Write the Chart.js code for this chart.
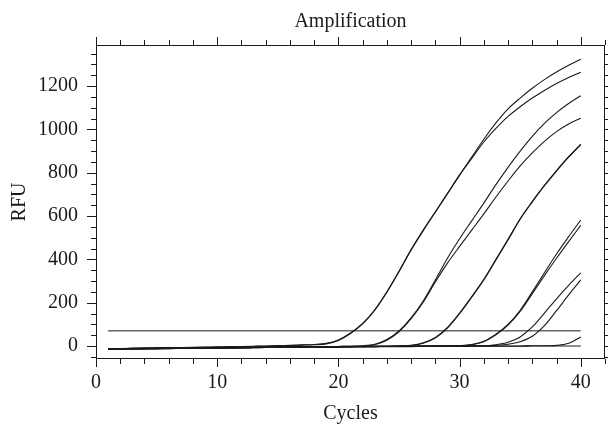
<!DOCTYPE html>
<html>
<head>
<meta charset="utf-8">
<title>Amplification</title>
<script src="https://cdn.jsdelivr.net/npm/chart.js@4.4.0/dist/chart.umd.min.js"></script>
<style>
  html, body { margin: 0; padding: 0; background: #fff; }
  #wrap { width: 608px; height: 426px; }
</style>
</head>
<body>
<div id="wrap"><canvas id="amp" width="608" height="426"></canvas></div>
<script>
// Datos (RFU por ciclo)
const cycles = [1,2,3,4,5,6,7,8,9,10,11,12,13,14,15,16,17,18,19,20,21,22,23,24,25,26,27,28,29,30,31,32,33,34,35,36,37,38,39,40];

const g1a = [-13,-12,-11,-10,-9,-8,-7,-6,-5,-4,-3,-2,-1,0,2,3,5,7,12,28,60,104,167,250,345,445,535,620,705,790,872,955,1030,1095,1145,1190,1230,1265,1296,1324];
const g1b = [-14,-13,-12,-11,-10,-9,-8,-7,-6,-5,-4,-3,-2,-1,1,2,4,6,10,26,58,102,165,248,343,443,533,618,703,788,866,942,1005,1060,1105,1145,1180,1212,1240,1264];
const g2a = [-15,-14,-14,-13,-12,-12,-11,-10,-10,-9,-8,-8,-7,-6,-6,-5,-4,-4,-3,-2,-1,1,8,30,70,130,208,305,405,495,578,660,745,825,900,968,1028,1078,1120,1156];
const g2b = [-14,-14,-13,-13,-12,-11,-11,-10,-9,-9,-8,-7,-7,-6,-5,-5,-4,-3,-3,-2,-1,0,6,27,66,126,202,296,383,460,535,610,688,762,832,892,945,990,1025,1052];
const g3a = [-13,-13,-12,-12,-11,-11,-10,-9,-9,-8,-8,-7,-7,-6,-5,-5,-4,-4,-3,-3,-2,-2,-1,-1,0,3,15,40,86,152,228,308,400,493,588,668,742,810,874,932];
const g3b = [-14,-13,-13,-12,-12,-11,-10,-10,-9,-9,-8,-8,-7,-6,-6,-5,-5,-4,-3,-3,-2,-2,-1,-1,0,2,13,37,83,149,225,305,397,490,585,665,740,808,872,930];
const g4a = [-12,-12,-11,-11,-10,-10,-9,-9,-8,-8,-7,-7,-6,-6,-5,-5,-4,-4,-3,-3,-2,-2,-1,-1,-1,0,0,0,0,2,7,22,55,100,165,250,338,425,505,582];
const g4b = [-13,-12,-12,-11,-11,-10,-10,-9,-9,-8,-8,-7,-7,-6,-6,-5,-5,-4,-4,-3,-3,-2,-2,-1,-1,-1,0,0,0,1,6,20,52,97,160,242,325,405,482,557];
const g5a = [-14,-14,-13,-13,-12,-12,-11,-11,-10,-10,-9,-9,-8,-7,-7,-6,-6,-5,-5,-4,-4,-3,-3,-2,-2,-1,-1,0,0,0,1,2,6,17,42,88,152,218,280,338];
const g5b = [-13,-13,-12,-12,-11,-11,-10,-10,-9,-9,-8,-8,-7,-7,-6,-6,-5,-5,-4,-4,-3,-3,-2,-2,-1,-1,-1,0,0,0,0,1,3,8,20,45,94,163,236,305];
const g6  = [-12,-12,-11,-11,-10,-10,-9,-9,-8,-8,-7,-7,-6,-6,-5,-5,-4,-4,-3,-3,-3,-2,-2,-2,-1,-1,-1,-1,0,0,0,0,0,0,0,1,1,3,13,42];
const ntc = [-14,-13,-13,-12,-12,-11,-11,-10,-10,-9,-9,-8,-8,-7,-7,-6,-6,-5,-5,-5,-4,-4,-4,-3,-3,-3,-2,-2,-2,-2,-1,-1,-1,-1,-1,0,0,0,0,0];

const curves = [g1a, g1b, g2a, g2b, g3a, g3b, g4a, g4b, g5a, g5b, g6, ntc];

// Umbral
const thresholdCycles = [1, 40];
const thresholdValue = 70;

// Etiquetas de los ejes
const xTickLabels = [0, 10, 20, 30, 40];
const yTickLabels = [0, 200, 400, 600, 800, 1000, 1200];

const X_MIN = 0, X_MAX = 42, X_MAJOR = 10, X_MINOR = 2;
const Y_MIN = -60, Y_MAX = 1390, Y_MAJOR = 200, Y_MINOR = 50;

const INK = '#1a1a1a';
const FONT = { family: "'Liberation Serif', 'DejaVu Serif', serif", size: 20, lineHeight: 1.2 };

// Marco + marcas de ejes en los cuatro lados
const frameTicks = {
    id: 'frameTicks',
    afterDraw(chart) {
        const { ctx, chartArea: a, scales: { x, y } } = chart;
        ctx.save();
        ctx.strokeStyle = INK;
        ctx.lineWidth = 1;
        ctx.strokeRect(a.left + 0.5, a.top + 0.5, a.right - a.left - 1, a.bottom - a.top - 1);
        ctx.beginPath();
        for (let v = X_MIN; v <= X_MAX; v += X_MINOR) {
            const px = Math.round(x.getPixelForValue(v)) + 0.5;
            const len = v % X_MAJOR === 0 ? 8 : 5;
            ctx.moveTo(px, a.bottom); ctx.lineTo(px, a.bottom + len);
            ctx.moveTo(px, a.top); ctx.lineTo(px, a.top - len);
        }
        for (let v = -Y_MINOR; v <= Y_MAX; v += Y_MINOR) {
            const py = Math.round(y.getPixelForValue(v)) + 0.5;
            const len = v % Y_MAJOR === 0 && v >= 0 ? 9 : 5;
            ctx.moveTo(a.left, py); ctx.lineTo(a.left - len, py);
            ctx.moveTo(a.right, py); ctx.lineTo(a.right + len, py);
        }
        ctx.stroke();
        ctx.restore();
    }
};

const datasets = curves.map(vals => ({
    data: cycles.map((c, i) => ({ x: c, y: vals[i] })),
    borderColor: INK,
    borderWidth: 1.1,
    pointRadius: 0,
    fill: false,
    cubicInterpolationMode: 'monotone'
}));
datasets.push({
    data: thresholdCycles.map(c => ({ x: c, y: thresholdValue })),
    borderColor: INK,
    borderWidth: 1,
    pointRadius: 0,
    fill: false
});

new Chart(document.getElementById('amp'), {
    type: 'line',
    data: { datasets },
    options: {
        responsive: false,
        animation: false,
        devicePixelRatio: 1,
        layout: { padding: { top: 0, right: 3, bottom: 0, left: 0 } },
        plugins: {
            legend: { display: false },
            tooltip: { enabled: false },
            title: {
                display: true,
                text: 'Amplification',
                fullSize: false,
                color: INK,
                font: { ...FONT, weight: 'normal' },
                padding: { top: 10, bottom: 11 }
            }
        },
        scales: {
            x: {
                type: 'linear',
                min: X_MIN,
                max: X_MAX,
                grid: { display: false, drawTicks: false },
                border: { display: false },
                ticks: { color: INK, font: FONT, padding: 12, maxRotation: 0, autoSkip: false, callback: v => String(v) },
                afterBuildTicks: s => { s.ticks = xTickLabels.map(v => ({ value: v })); },
                afterFit: s => { s.height = 67; },
                title: { display: true, text: 'Cycles', color: INK, font: FONT, padding: 0 }
            },
            y: {
                min: Y_MIN,
                max: Y_MAX,
                grid: { display: false, drawTicks: false },
                border: { display: false },
                ticks: { color: INK, font: FONT, padding: 18, autoSkip: false, callback: v => String(v) },
                afterBuildTicks: s => { s.ticks = yTickLabels.map(v => ({ value: v })); },
                afterFit: s => { s.width = 96; },
                title: { display: true, text: 'RFU', color: INK, font: FONT, padding: { top: 8, bottom: 0 } }
            }
        }
    },
    plugins: [frameTicks]
});
</script>
</body>
</html>
